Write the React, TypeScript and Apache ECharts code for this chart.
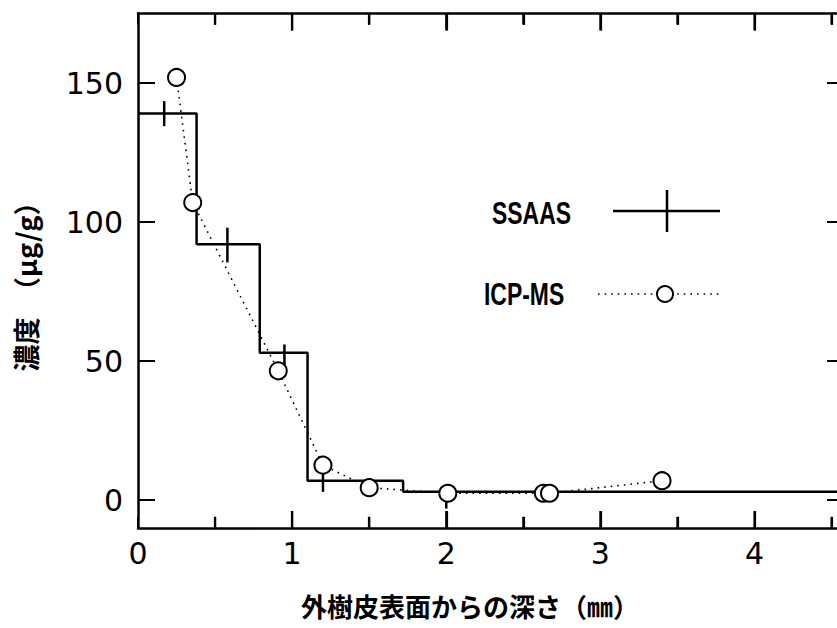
import React, { useEffect, useRef } from "react";
import * as echarts from "echarts";

// SSAAS: step histogram (edges and level values)
const stepEdges = [0, 0.38, 0.79, 1.1, 1.72, 4.6];
const stepValues = [139, 92, 53, 7, 3];
// SSAAS: measurement crosses (vertical error bars)
const crossX = [0.17, 0.58, 0.95, 1.2, 2.0];
const crossLow = [134.5, 85.5, 47, 3, -3];
const crossHigh = [143.5, 98, 56, 11, 5];
// ICP-MS points
const icpX = [0.25, 0.355, 0.91, 1.2, 1.5, 2.01, 2.63, 2.67, 3.4];
const icpY = [152, 107, 46.5, 12.6, 4.5, 2.5, 2.5, 2.5, 7];
// tick labels / tick positions
const xLabels = [0, 1, 2, 3, 4];
const xTicks = [0.5, 1, 1.5, 2, 2.5, 3, 3.5, 4, 4.5];
const yLabels = [0, 50, 100, 150];

const X_MIN = 0;
const X_MAX = 4.6;
const Y_MIN = -10;
const Y_MAX = 175;

export default function App() {
  const ref = useRef<HTMLDivElement>(null);
  useEffect(() => {
    if (!ref.current) return;
    const chart = echarts.init(ref.current, undefined, { renderer: "svg" });

    const stepPoints: number[][] = [];
    stepValues.forEach((v, i) => {
      stepPoints.push([stepEdges[i], v]);
      stepPoints.push([stepEdges[i + 1], v]);
    });
    const crossData = crossX.map((x, i) => [x, crossLow[i], crossHigh[i]]);
    const icpData = icpX.map((x, i) => [x, icpY[i]]);
    const tickData = xTicks.map((v) => [v, Y_MIN, Y_MAX]);

    const black = "#000";
    const labelStyle = {
      color: black,
      fontFamily: "DejaVu Sans",
      fontSize: 30,
    };
    const mainLine = { show: true, onZero: false, lineStyle: { color: black, width: 2.5 } };

    // tick length in data units (17px major, 11px minor on a 2.78 px/unit y scale)
    const isMajor = (v: number) => Math.abs(v - Math.round(v)) < 1e-6;
    const tickLen = (v: number) => (isMajor(v) ? 6.1 : 4);
    const tickMarkLines: any[] = [];
    xTicks.forEach((v) => {
      tickMarkLines.push([{ coord: [v, Y_MIN] }, { coord: [v, Y_MIN + tickLen(v)] }]);
      tickMarkLines.push([{ coord: [v, Y_MAX] }, { coord: [v, Y_MAX - tickLen(v)] }]);
    });

    const option: any = {
      animation: false,
      backgroundColor: "#fff",
      grid: {
        left: 138,
        right: -10,
        top: 13.5,
        bottom: 100,
        containLabel: false,
        outerBoundsMode: "none",
      },
      xAxis: [
        {
          type: "value",
          min: X_MIN,
          max: X_MAX,
          interval: 0.5,
          position: "bottom",
          splitLine: { show: false },
          axisLine: mainLine,
          axisTick: {
            show: true,
            inside: true,
            length: 11,
            lineStyle: { color: black, width: 2 },
          },
          axisLabel: {
            ...labelStyle,
            margin: 10,
            showMaxLabel: false,
            formatter: (v: number) => (xLabels.includes(v) ? String(v) : ""),
          },
        },
        {
          type: "value",
          min: X_MIN,
          max: X_MAX,
          interval: 0.5,
          position: "top",
          splitLine: { show: false },
          axisLine: mainLine,
          axisTick: {
            show: true,
            inside: true,
            length: 11,
            lineStyle: { color: black, width: 2 },
          },
          axisLabel: { show: false },
        },
      ],
      yAxis: [
        {
          type: "value",
          min: Y_MIN,
          max: Y_MAX,
          position: "left",
          splitLine: { show: false },
          axisLine: mainLine,
          axisTick: {
            show: true,
            inside: true,
            length: 17,
            customValues: yLabels,
            lineStyle: { color: black, width: 2 },
          },
          axisLabel: { ...labelStyle, margin: 15, customValues: yLabels },
        },
        {
          type: "value",
          min: Y_MIN,
          max: Y_MAX,
          position: "right",
          splitLine: { show: false },
          axisLine: mainLine,
          axisTick: {
            show: true,
            inside: true,
            length: 20,
            customValues: yLabels,
            lineStyle: { color: black, width: 2 },
          },
          axisLabel: { show: false, customValues: yLabels },
        },
      ],
      series: [
        {
          name: "SSAAS",
          type: "line",
          data: stepPoints,
          symbol: "none",
          lineStyle: { color: black, width: 2.5 },
          z: 2,
          markLine: {
            silent: true,
            symbol: ["none", "none"],
            label: { show: false },
            lineStyle: { color: black, width: 2.2, type: "solid" },
            data: tickMarkLines,
          },
        },
        {
          name: "SSAAS-err",
          type: "custom",
          data: crossData,
          z: 2,
          renderItem: (params: any, api: any) => {
            const p1 = api.coord([api.value(0), api.value(1)]);
            const p2 = api.coord([api.value(0), api.value(2)]);
            return {
              type: "line",
              shape: { x1: p1[0], y1: p1[1], x2: p2[0], y2: p2[1] },
              style: { stroke: black, lineWidth: 2.5 },
            };
          },
        },
        {
          name: "ICP-MS",
          type: "line",
          data: icpData,
          symbol: "circle",
          symbolSize: 17,
          itemStyle: { color: "#fff", borderColor: black, borderWidth: 2 },
          lineStyle: { color: black, width: 1.6, type: [1.6, 5] },
          z: 3,
        },
        {
          // x-axis ticks as thin rectangles, placed through the axis scale
          name: "xTicks",
          type: "custom",
          data: tickData,
          clip: false,
          z: 6,
          renderItem: (params: any, api: any) => {
            const v = api.value(0);
            const b = api.coord([v, api.value(1)]);
            const bt = api.coord([v, api.value(1) + tickLen(v)]);
            const t = api.coord([v, api.value(2)]);
            const tb = api.coord([v, api.value(2) - tickLen(v)]);
            return {
              type: "group",
              children: [
                {
                  type: "rect",
                  shape: { x: b[0] - 1.1, y: bt[1], width: 2.2, height: b[1] - bt[1] },
                  style: { fill: black },
                },
                {
                  type: "rect",
                  shape: { x: t[0] - 1.1, y: t[1], width: 2.2, height: tb[1] - t[1] },
                  style: { fill: black },
                },
              ],
            };
          },
        },
      ],
      graphic: [
        {
          type: "text",
          x: 492,
          y: 213,
          scaleX: 0.74,
          style: {
            text: "SSAAS",
            font: 'bold 31px "Liberation Sans"',
            fill: black,
            textAlign: "left",
            textVerticalAlign: "middle",
          },
        },
        {
          type: "line",
          shape: { x1: 613, y1: 211, x2: 720, y2: 211 },
          style: { stroke: black, lineWidth: 2.5 },
        },
        {
          type: "line",
          shape: { x1: 667, y1: 190, x2: 667, y2: 232 },
          style: { stroke: black, lineWidth: 2.5 },
        },
        {
          type: "text",
          x: 484,
          y: 294,
          scaleX: 0.74,
          style: {
            text: "ICP-MS",
            font: 'bold 31px "Liberation Sans"',
            fill: black,
            textAlign: "left",
            textVerticalAlign: "middle",
          },
        },
        {
          type: "line",
          shape: { x1: 598, y1: 294, x2: 720, y2: 294 },
          style: { stroke: black, lineWidth: 1.6, lineDash: [1.6, 5] },
        },
        {
          type: "circle",
          z: 10,
          shape: { cx: 665, cy: 294, r: 8 },
          style: { fill: "#fff", stroke: black, lineWidth: 2 },
        },
        {
          type: "text",
          x: 470,
          y: 605,
          style: {
            text: "外樹皮表面からの深さ（㎜）",
            font: 'bold 26px "Noto Sans CJK JP"',
            fill: black,
            textAlign: "center",
            textVerticalAlign: "middle",
          },
        },
        {
          type: "text",
          x: 25,
          y: 280,
          rotation: Math.PI / 2,
          style: {
            text: "濃度　（μg/g）",
            font: 'bold 27px "Noto Sans CJK JP"',
            fill: black,
            textAlign: "center",
            textVerticalAlign: "middle",
          },
        },
      ],
    };
    chart.setOption(option);
    return () => chart.dispose();
  }, []);
  return (
    <div
      ref={ref}
      style={{
        position: "fixed",
        left: 0,
        top: 0,
        width: 837,
        height: 628,
        background: "#fff",
      }}
    />
  );
}
